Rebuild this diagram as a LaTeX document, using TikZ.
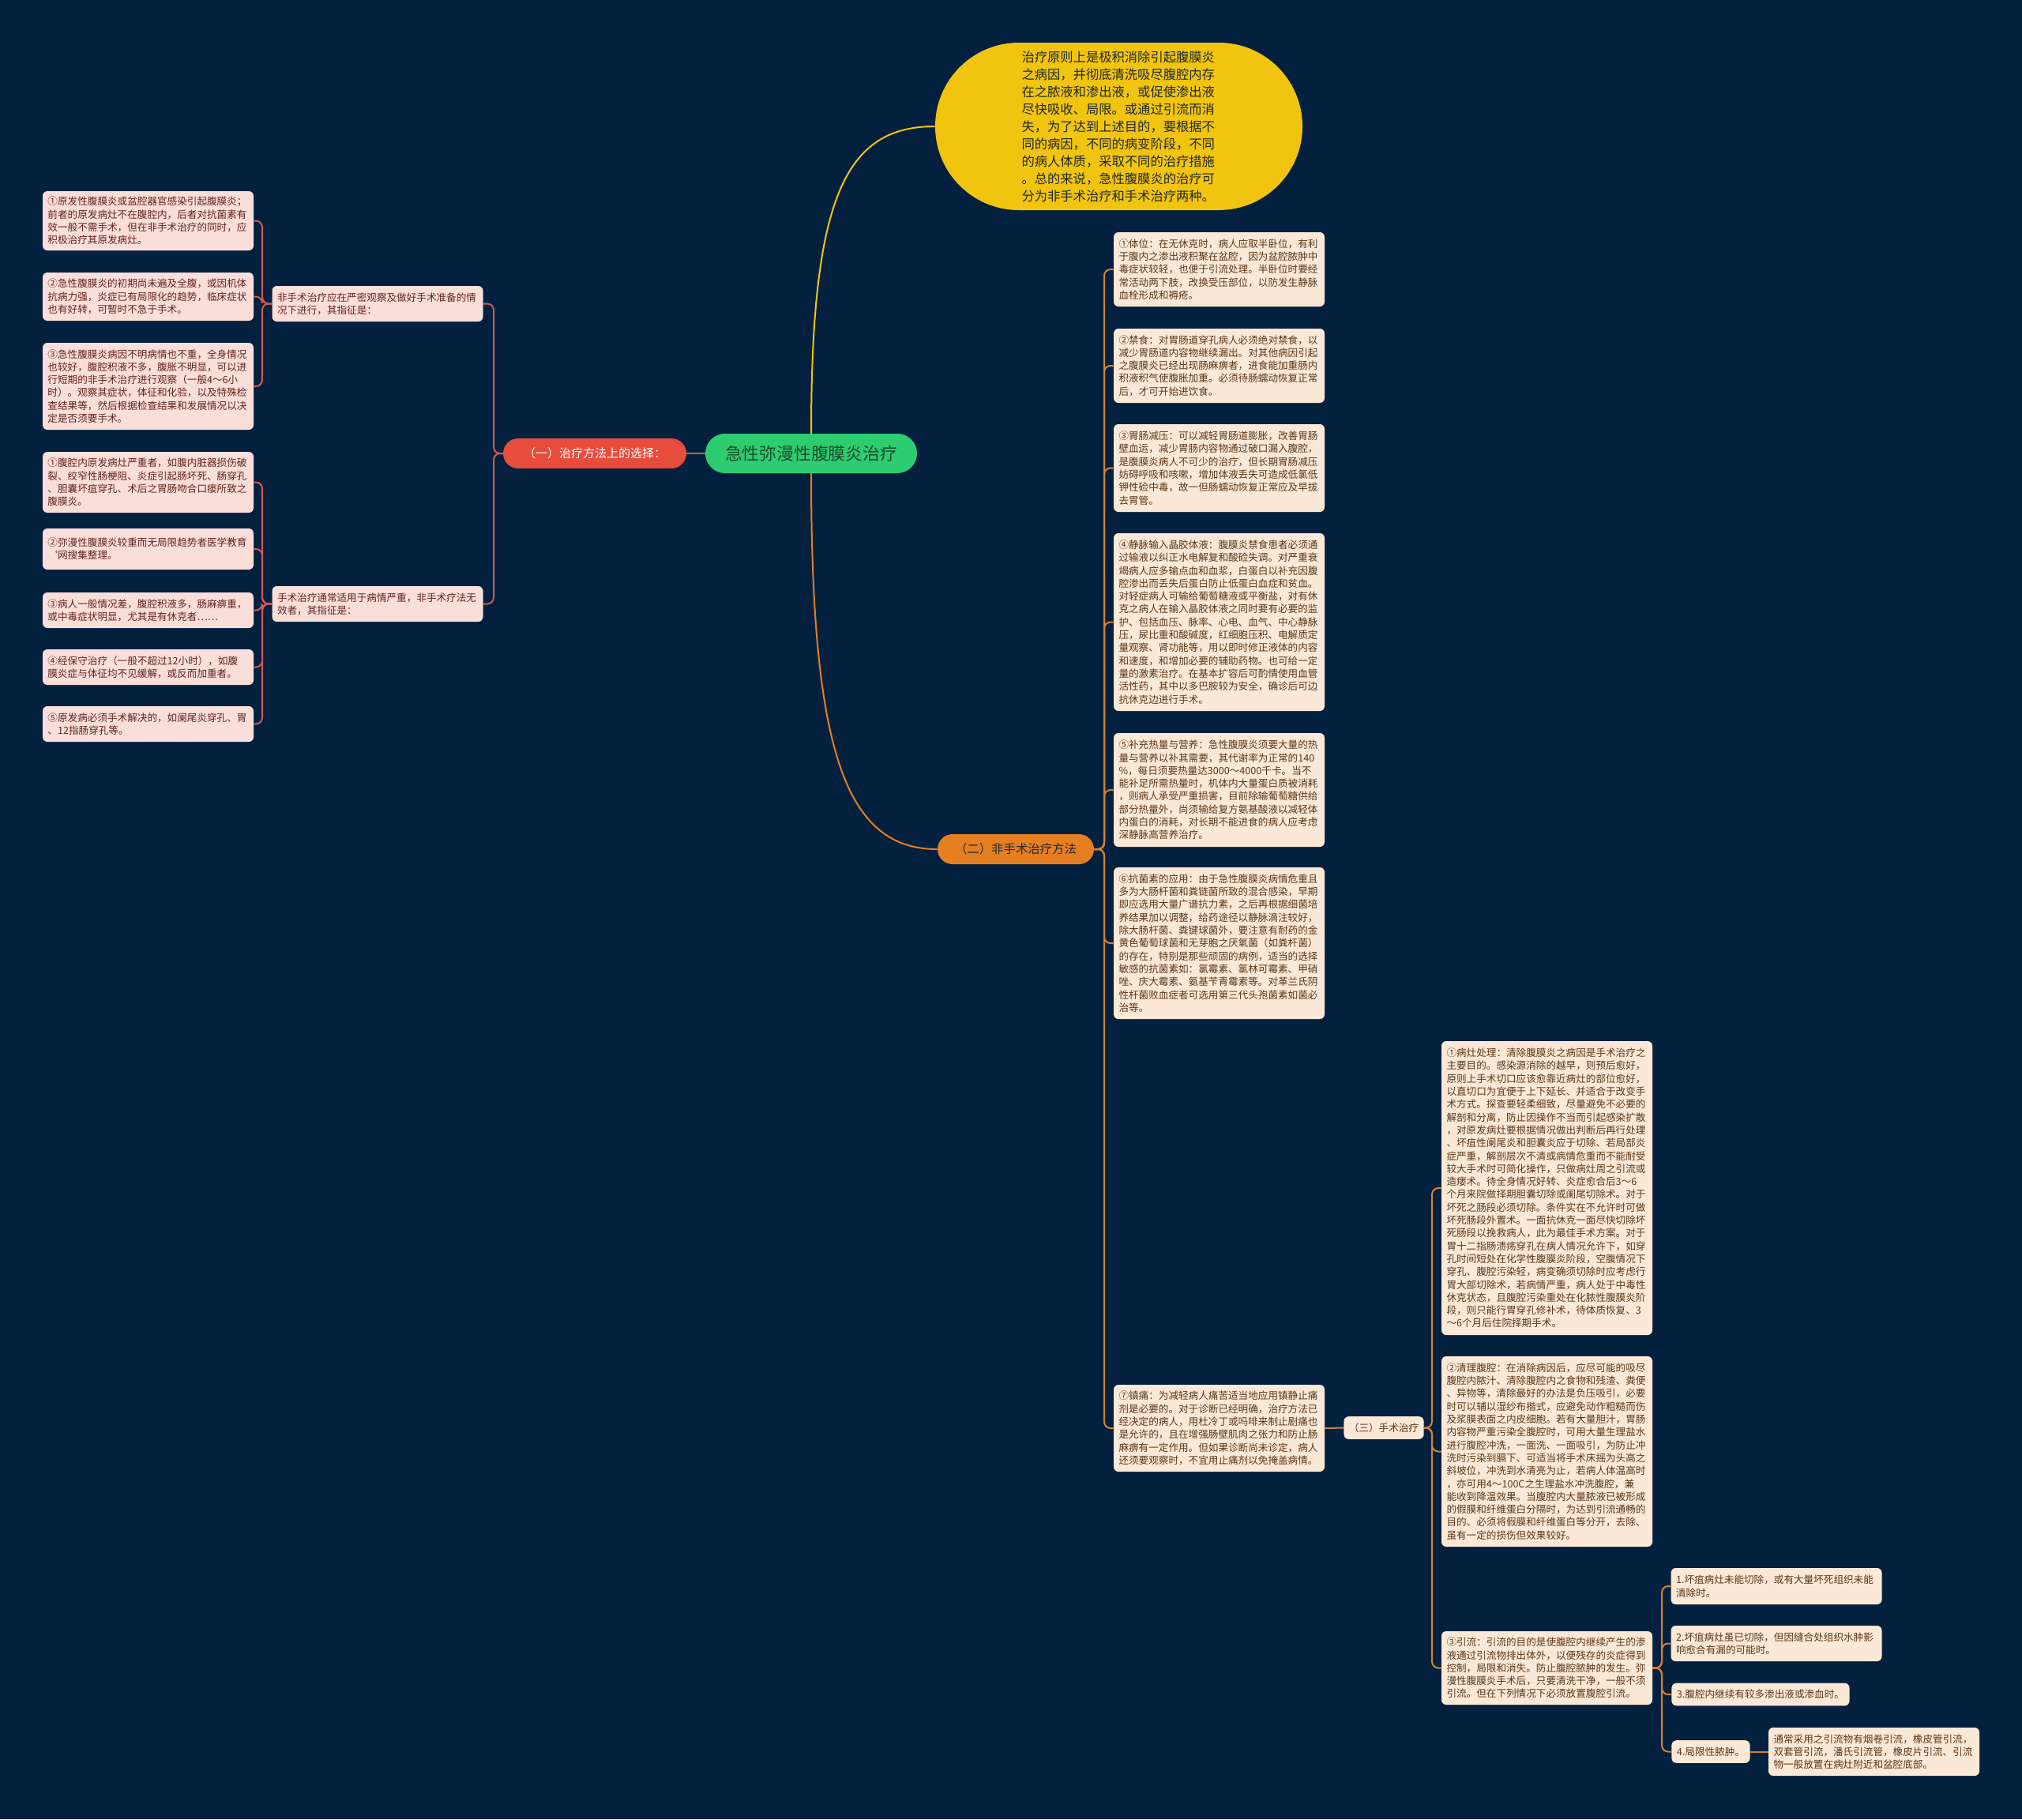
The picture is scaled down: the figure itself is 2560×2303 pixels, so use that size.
\documentclass[tikz,border=0pt]{standalone}
\usepackage{fontspec}
\setmainfont{Noto Sans CJK SC}
\definecolor{bg}{RGB}{3,33,63}
\definecolor{pinkfill}{RGB}{250,222,218}
\definecolor{pinktext}{RGB}{100,35,30}
\definecolor{beigefill}{RGB}{252,232,214}
\definecolor{beigetext}{RGB}{90,55,25}
\definecolor{redfill}{RGB}{231,76,60}
\definecolor{orangefill}{RGB}{230,126,34}
\definecolor{yellowfill}{RGB}{241,196,15}
\definecolor{greenfill}{RGB}{46,204,113}
\definecolor{lred}{RGB}{205,92,80}
\definecolor{lorange}{RGB}{210,130,50}
\definecolor{darktext}{RGB}{30,40,45}
\definecolor{roottext}{RGB}{25,75,40}
\tikzset{
  box/.style={rounded corners=3pt, inner xsep=3.25pt, inner ysep=0pt, font=\fontsize{6.3pt}{8.15pt}\selectfont},
  pinkbox/.style={box, fill=pinkfill, text=pinktext, text width=127pt, align=left},
  beigebox/.style={box, fill=beigefill, text=beigetext, text width=127pt, align=left},
  beigeshort/.style={box, fill=beigefill, text=beigetext, minimum height=14.3pt, anchor=west},
  redcon/.style={draw=lred, line width=1pt, rounded corners=4pt},
  orcon/.style={draw=lorange, line width=1pt, rounded corners=4pt},
}
\begin{document}
\begin{tikzpicture}[x=0.5pt,y=-0.5pt]
\useasboundingbox (0,0) rectangle (2560,2303);
\fill[bg] (0,0) rectangle (2560,2303);

% connectors from root (drawn first, under the root)
\coordinate (ry) at (1027,574);
\coordinate (ro) at (1027,574);

% main nodes
\node[fill=yellowfill, text=darktext, rounded corners=53pt, minimum width=232.5pt, minimum height=106pt, inner sep=0pt, text width=123pt, align=left, font=\fontsize{8.15pt}{11pt}\selectfont] (yel) at (1416.5,160) {治疗原则上是极积消除引起腹膜炎\\之病因，并彻底清洗吸尽腹腔内存\\在之脓液和渗出液，或促使渗出液\\尽快吸收、局限。或通过引流而消\\失，为了达到上述目的，要根据不\\同的病因，不同的病变阶段，不同\\的病人体质，采取不同的治疗措施\\。总的来说，急性腹膜炎的治疗可\\分为非手术治疗和手术治疗两种。};
\node[fill=orangefill, text=darktext, rounded corners=9.5pt, minimum width=99pt, minimum height=19pt, inner sep=0pt, font=\fontsize{7.7pt}{9pt}\selectfont] (two) at (1286,1075) {（二）非手术治疗方法};
\draw[draw=yellowfill, line width=1pt] (ry) -- (1027,549) .. controls (1027,250) and (1070,160) .. (yel.west);
\draw[draw=orangefill, line width=1pt] (ro) -- (1027,599) .. controls (1027,950) and (1070,1075) .. (two.west);

\node[fill=greenfill, text=roottext, rounded corners=12.5pt, minimum width=134pt, minimum height=25pt, inner sep=0pt, font=\fontsize{10.9pt}{13pt}\selectfont] (root) at (1027,574) {急性弥漫性腹膜炎治疗};
\node[fill=redfill, text=white, rounded corners=9.5pt, minimum width=116pt, minimum height=19pt, inner sep=0pt, font=\fontsize{7.5pt}{9pt}\selectfont] (one) at (753,574) {（一）治疗方法上的选择：};

% left middle
\node[pinkbox, minimum height=22.5pt] (m1) at (478,384.5) {非手术治疗应在严密观察及做好手术准备的情\\况下进行，其指征是：};
\node[pinkbox, minimum height=22.5pt] (m2) at (478,764.5) {手术治疗通常适用于病情严重，非手术疗法无\\效者，其指征是：};

% left leaves
\node[pinkbox, minimum height=37.5pt] (l1) at (187.5,279.5) {①原发性腹膜炎或盆腔器官感染引起腹膜炎；\\前者的原发病灶不在腹腔内，后者对抗菌素有\\效一般不需手术，但在非手术治疗的同时，应\\积极治疗其原发病灶。};
\node[pinkbox, minimum height=30.5pt] (l2) at (187.5,375.5) {②急性腹膜炎的初期尚未遍及全腹，或因机体\\抗病力强，炎症已有局限化的趋势，临床症状\\也有好转，可暂时不急于手术。};
\node[pinkbox, minimum height=55pt] (l3) at (187.5,489) {③急性腹膜炎病因不明病情也不重，全身情况\\也较好，腹腔积液不多，腹胀不明显，可以进\\行短期的非手术治疗进行观察（一般4～6小\\时）。观察其症状，体征和化验，以及特殊检\\查结果等，然后根据检查结果和发展情况以决\\定是否须要手术。};
\node[pinkbox, minimum height=38.5pt] (l4) at (187.5,610.5) {①腹腔内原发病灶严重者，如腹内脏器损伤破\\裂、绞窄性肠梗阻、炎症引起肠坏死、肠穿孔\\、胆囊坏疽穿孔、术后之胃肠吻合口瘘所致之\\腹膜炎。};
\node[pinkbox, minimum height=26pt] (l5) at (187.5,695) {②弥漫性腹膜炎较重而无局限趋势者医学教育\\`网搜集整理。};
\node[pinkbox, minimum height=22.5pt] (l6) at (187.5,772.5) {③病人一般情况差，腹腔积液多，肠麻痹重，\\或中毒症状明显，尤其是有休克者……};
\node[pinkbox, minimum height=22.5pt] (l7) at (187.5,844.5) {④经保守治疗（一般不超过12小时），如腹\\膜炎症与体征均不见缓解，或反而加重者。};
\node[pinkbox, minimum height=22.5pt] (l8) at (187.5,916.5) {⑤原发病必须手术解决的，如阑尾炎穿孔、胃\\、12指肠穿孔等。};

% right column
\node[beigebox, minimum height=47pt] (r1) at (1543.5,341) {①体位：在无休克时，病人应取半卧位，有利\\于腹内之渗出液积聚在盆腔，因为盆腔脓肿中\\毒症状较轻，也便于引流处理。半卧位时要经\\常活动两下肢，改换受压部位，以防发生静脉\\血栓形成和褥疮。};
\node[beigebox, minimum height=47pt] (r2) at (1543.5,463) {②禁食：对胃肠道穿孔病人必须绝对禁食，以\\减少胃肠道内容物继续漏出。对其他病因引起\\之腹膜炎已经出现肠麻痹者，进食能加重肠内\\积液积气使腹胀加重。必须待肠蠕动恢复正常\\后，才可开始进饮食。};
\node[beigebox, minimum height=55.5pt] (r3) at (1543.5,592.5) {③胃肠减压：可以减轻胃肠道膨胀，改善胃肠\\壁血运，减少胃肠内容物通过破口漏入腹腔，\\是腹膜炎病人不可少的治疗，但长期胃肠减压\\妨碍呼吸和咳嗽，增加体液丢失可造成低氯低\\钾性硷中毒，故一但肠蠕动恢复正常应及早拔\\去胃管。};
\node[beigebox, minimum height=112.5pt] (r4) at (1543.5,787.5) {④静脉输入晶胶体液：腹膜炎禁食患者必须通\\过输液以纠正水电解复和酸硷失调。对严重衰\\竭病人应多输点血和血浆，白蛋白以补充因腹\\腔渗出而丢失后蛋白防止低蛋白血症和贫血。\\对轻症病人可输给葡萄糖液或平衡盐，对有休\\克之病人在输入晶胶体液之同时要有必要的监\\护、包括血压、脉率、心电、血气、中心静脉\\压，尿比重和酸碱度，红细胞压积、电解质定\\量观察、肾功能等，用以即时修正液体的内容\\和速度，和增加必要的辅助药物。也可给一定\\量的激素治疗。在基本扩容后可酌情使用血管\\活性药，其中以多巴胺较为安全，确诊后可边\\抗休克边进行手术。};
\node[beigebox, minimum height=72pt] (r5) at (1543.5,1000) {⑤补充热量与营养：急性腹膜炎须要大量的热\\量与营养以补其需要，其代谢率为正常的140\\\%，每日须要热量达3000～4000千卡。当不\\能补足所需热量时，机体内大量蛋白质被消耗\\，则病人承受严重损害，目前除输葡萄糖供给\\部分热量外，尚须输给复方氨基酸液以减轻体\\内蛋白的消耗，对长期不能进食的病人应考虑\\深静脉高营养治疗。};
\node[beigebox, minimum height=96pt] (r6) at (1543.5,1194) {⑥抗菌素的应用：由于急性腹膜炎病情危重且\\多为大肠杆菌和粪链菌所致的混合感染，早期\\即应选用大量广谱抗力素，之后再根据细菌培\\养结果加以调整，给药途径以静脉滴注较好，\\除大肠杆菌、粪键球菌外，要注意有耐药的金\\黄色葡萄球菌和无芽胞之厌氧菌（如粪杆菌）\\的存在，特别是那些顽固的病例，适当的选择\\敏感的抗菌素如：氯霉素、氯林可霉素、甲硝\\唑、庆大霉素、氨基苄青霉素等。对革兰氏阴\\性杆菌败血症者可选用第三代头孢菌素如菌必\\治等。};
\node[beigebox, minimum height=55pt] (r7) at (1543.5,1808) {⑦镇痛：为减轻病人痛苦适当地应用镇静止痛\\剂是必要的。对于诊断已经明确，治疗方法已\\经决定的病人，用杜冷丁或吗啡来制止剧痛也\\是允许的，且在增强肠壁肌肉之张力和防止肠\\麻痹有一定作用。但如果诊断尚未诊定，病人\\还须要观察时，不宜用止痛剂以免掩盖病情。};

\node[beigeshort] (three) at (1701,1807.5) {（三）手术治疗};

% third column
\node[beigebox, minimum height=186pt] (t1) at (1958.5,1504) {①病灶处理：清除腹膜炎之病因是手术治疗之\\主要目的。感染源消除的越早，则预后愈好，\\原则上手术切口应该愈靠近病灶的部位愈好，\\以直切口为宜便于上下延长、并适合于改变手\\术方式。探查要轻柔细致，尽量避免不必要的\\解剖和分离，防止因操作不当而引起感染扩散\\，对原发病灶要根据情况做出判断后再行处理\\、坏疽性阑尾炎和胆囊炎应于切除、若局部炎\\症严重，解剖层次不清或病情危重而不能耐受\\较大手术时可简化操作，只做病灶周之引流或\\造瘘术。待全身情况好转、炎症愈合后3～6\\个月来院做择期胆囊切除或阑尾切除术。对于\\坏死之肠段必须切除。条件实在不允许时可做\\坏死肠段外置术。一面抗休克一面尽快切除坏\\死肠段以挽救病人，此为最佳手术方案。对于\\胃十二指肠溃疡穿孔在病人情况允许下，如穿\\孔时间短处在化学性腹膜炎阶段，空腹情况下\\穿孔、腹腔污染轻，病变确须切除时应考虑行\\胃大部切除术，若病情严重，病人处于中毒性\\休克状态，且腹腔污染重处在化脓性腹膜炎阶\\段，则只能行胃穿孔修补术，待体质恢复、3\\～6个月后住院择期手术。};
\node[beigebox, minimum height=120.5pt] (t2) at (1958.5,1837.5) {②清理腹腔：在消除病因后，应尽可能的吸尽\\腹腔内脓汁、清除腹腔内之食物和残渣、粪便\\、异物等，清除最好的办法是负压吸引，必要\\时可以辅以湿纱布揩式，应避免动作粗糙而伤\\及浆膜表面之内皮细胞。若有大量胆汁，胃肠\\内容物严重污染全腹腔时，可用大量生理盐水\\进行腹腔冲洗，一面洗、一面吸引，为防止冲\\洗时污染到膈下、可适当将手术床摇为头高之\\斜坡位，冲洗到水清亮为止，若病人体温高时\\，亦可用4～100C之生理盐水冲洗腹腔，兼\\能收到降温效果。当腹腔内大量脓液已被形成\\的假膜和纤维蛋白分隔时，为达到引流通畅的\\目的、必须将假膜和纤维蛋白等分开，去除、\\虽有一定的损伤但效果较好。};
\node[beigebox, minimum height=46.5pt] (t3) at (1958.5,2111.5) {③引流：引流的目的是使腹腔内继续产生的渗\\液通过引流物排出体外，以便残存的炎症得到\\控制，局限和消失。防止腹腔脓肿的发生。弥\\漫性腹膜炎手术后，只要清洗干净，一般不须\\引流。但在下列情况下必须放置腹腔引流。};

% fourth column
\node[beigebox, minimum height=23pt] (f1) at (2249,2008) {1.坏疽病灶未能切除，或有大量坏死组织未能\\清除时。};
\node[beigebox, minimum height=22.5pt] (f2) at (2249,2080.5) {2.坏疽病灶虽已切除，但因缝合处组织水肿影\\响愈合有漏的可能时。};
\node[beigeshort] (f3) at (2116,2145) {3.腹腔内继续有较多渗出液或渗血时。};
\node[beigeshort] (f4) at (2116,2217.5) {4.局限性脓肿。};
\node[beigebox, minimum height=30.5pt] (f5) at (2372.5,2217.5) {通常采用之引流物有烟卷引流，橡皮管引流，\\双套管引流，潘氏引流管，橡皮片引流、引流\\物一般放置在病灶附近和盆腔底部。};

% junction coordinates
\coordinate (jone) at (625,574);
\coordinate (jm1) at (332,384.5);
\coordinate (jm2) at (332,764.5);
\coordinate (jtwo) at (1398,1075);
\coordinate (jthree) at (1813,1807.5);
\coordinate (jt3) at (2104,2111.5);

% connectors
\draw[redcon] (root.west) -- (one.east);
\foreach \n in {m1,m2} \draw[redcon] (one.west) -- (jone) |- (\n.east);
\foreach \n in {l1,l2,l3} \draw[redcon] (m1.west) -- (jm1) |- (\n.east);
\foreach \n in {l4,l5,l6,l7,l8} \draw[redcon] (m2.west) -- (jm2) |- (\n.east);
\foreach \n in {r1,r2,r3,r4,r5,r6,r7} \draw[orcon] (two.east) -- (jtwo) |- (\n.west);
\draw[orcon] (r7.east) -- (three.west);
\foreach \n in {t1,t2,t3} \draw[orcon] (three.east) -- (jthree) |- (\n.west);
\foreach \n in {f1,f2,f3,f4} \draw[orcon] (t3.east) -- (jt3) |- (\n.west);
\draw[orcon] (f4.east) -- (f5.west);
\end{tikzpicture}
\end{document}
